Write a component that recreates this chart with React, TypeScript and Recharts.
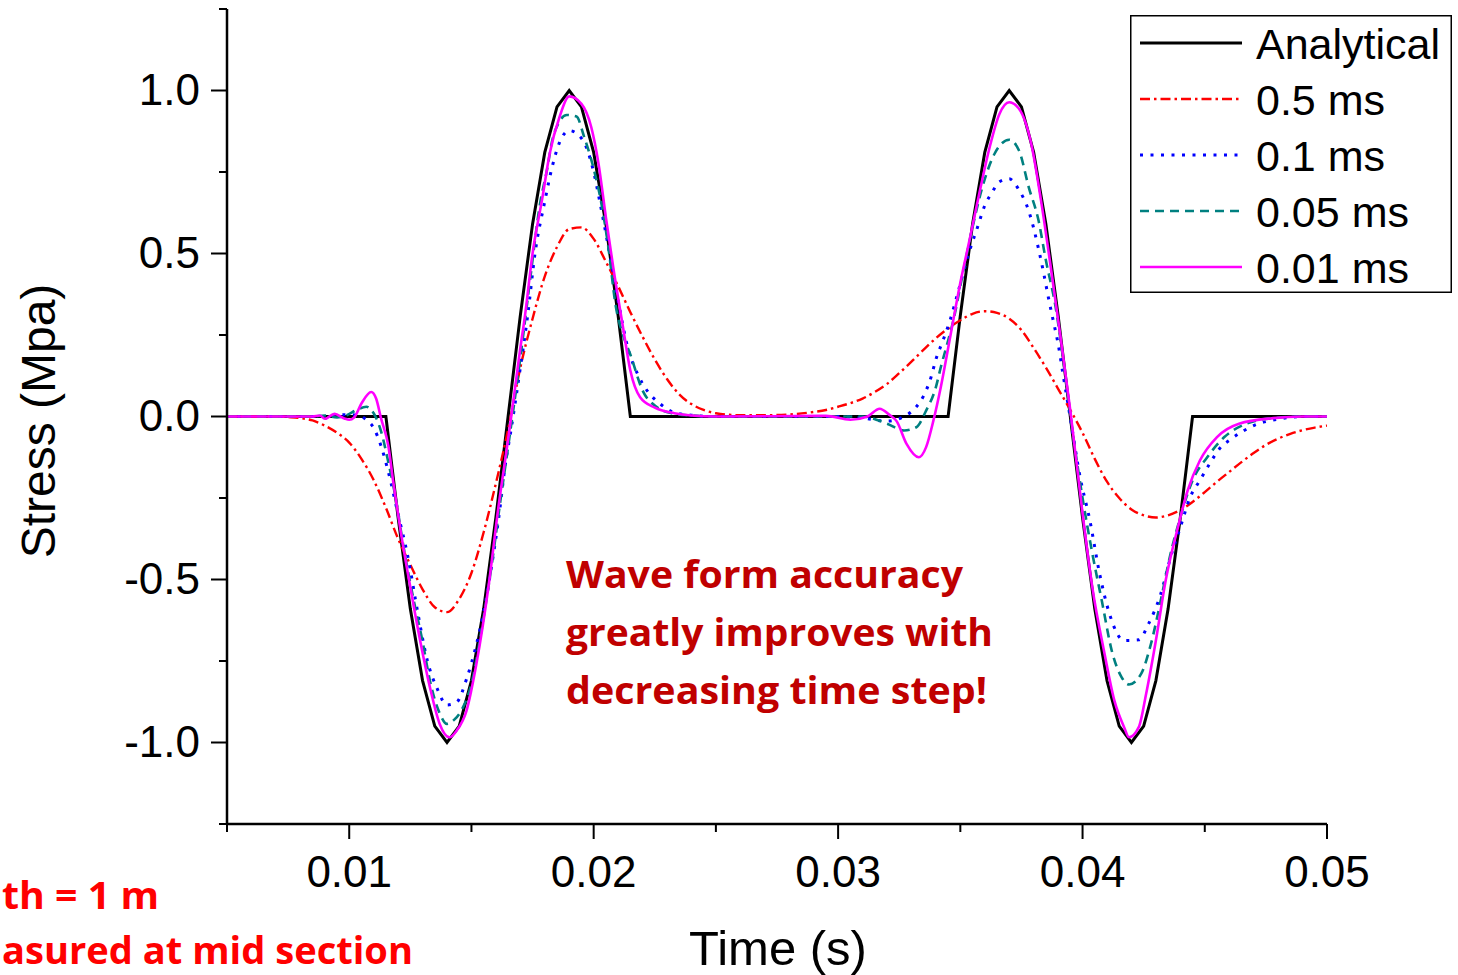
import React from 'react';
import { LineChart, Line, XAxis, YAxis, Legend } from 'recharts';

// ---------- axis ticks ----------
const xTicks = [0.005, 0.01, 0.015, 0.02, 0.025, 0.03, 0.035, 0.04, 0.045, 0.05];
const yTicks = [-1.25, -1, -0.75, -0.5, -0.25, 0, 0.25, 0.5, 0.75, 1, 1.25];

// ---------- Analytical ----------
const tAnalytical = [0.005, 0.0115, 0.012, 0.0125, 0.013, 0.0135, 0.014, 0.0145, 0.015, 0.0155, 0.016, 0.0165, 0.017, 0.0175, 0.018, 0.0185, 0.019, 0.0195, 0.02, 0.0205, 0.021, 0.0215, 0.0345, 0.035, 0.0355, 0.036, 0.0365, 0.037, 0.0375, 0.038, 0.0385, 0.039, 0.0395, 0.04, 0.0405, 0.041, 0.0415, 0.042, 0.0425, 0.043, 0.0435, 0.044, 0.0445, 0.05];
const sAnalytical = [0, 0, -0.31, -0.59, -0.81, -0.95, -1, -0.95, -0.81, -0.59, -0.31, 0, 0.31, 0.59, 0.81, 0.95, 1, 0.95, 0.81, 0.59, 0.31, 0, 0, 0.31, 0.59, 0.81, 0.95, 1, 0.95, 0.81, 0.59, 0.31, 0, -0.31, -0.59, -0.81, -0.95, -1, -0.95, -0.81, -0.59, -0.31, 0, 0];

// ---------- 0.5 ms ----------
const t05 = [0.005, 0.006, 0.007, 0.0075, 0.008, 0.0085, 0.009, 0.0095, 0.01, 0.0105, 0.011, 0.0115, 0.012, 0.0125, 0.013, 0.0135, 0.014, 0.0145, 0.015, 0.0155, 0.016, 0.0165, 0.017, 0.0175, 0.018, 0.0185, 0.019, 0.0195, 0.02, 0.0205, 0.021, 0.0215, 0.022, 0.0225, 0.023, 0.0235, 0.024, 0.0245, 0.025, 0.026, 0.027, 0.028, 0.029, 0.0295, 0.03, 0.0305, 0.031, 0.0315, 0.032, 0.0325, 0.033, 0.0335, 0.034, 0.0345, 0.035, 0.0355, 0.036, 0.0365, 0.037, 0.0375, 0.038, 0.0385, 0.039, 0.0395, 0.04, 0.0405, 0.041, 0.0415, 0.042, 0.0425, 0.043, 0.0435, 0.044, 0.0445, 0.045, 0.0455, 0.046, 0.0465, 0.047, 0.0475, 0.048, 0.0485, 0.049, 0.0495, 0.05];
const s05 = [0, 0, 0, -0.002, -0.005, -0.012, -0.028, -0.05, -0.08, -0.13, -0.195, -0.28, -0.375, -0.455, -0.53, -0.585, -0.6, -0.56, -0.48, -0.355, -0.205, -0.04, 0.15, 0.3, 0.43, 0.52, 0.575, 0.58, 0.545, 0.475, 0.4, 0.32, 0.245, 0.175, 0.115, 0.068, 0.038, 0.02, 0.01, 0.004, 0.004, 0.006, 0.014, 0.02, 0.03, 0.041, 0.055, 0.075, 0.1, 0.133, 0.168, 0.205, 0.24, 0.27, 0.295, 0.315, 0.323, 0.318, 0.3, 0.265, 0.21, 0.15, 0.085, 0.02, -0.05, -0.13, -0.2, -0.25, -0.285, -0.303, -0.31, -0.303, -0.287, -0.262, -0.232, -0.2, -0.17, -0.14, -0.112, -0.087, -0.068, -0.053, -0.042, -0.034, -0.028];

// ---------- 0.1 ms ----------
const t01 = [0.005, 0.009, 0.0095, 0.01, 0.0104, 0.0107, 0.011, 0.0113, 0.0116, 0.012, 0.0124, 0.0128, 0.0132, 0.0136, 0.014, 0.0144, 0.0148, 0.0152, 0.0155, 0.0158, 0.0161, 0.0164, 0.0166, 0.017, 0.0173, 0.0176, 0.018, 0.0183, 0.0186, 0.019, 0.0194, 0.0197, 0.02, 0.0203, 0.0207, 0.021, 0.0214, 0.0218, 0.0222, 0.0227, 0.0233, 0.024, 0.025, 0.03, 0.031, 0.032, 0.0327, 0.0332, 0.0335, 0.0338, 0.034, 0.0343, 0.0346, 0.0349, 0.0353, 0.0357, 0.036, 0.0363, 0.0366, 0.037, 0.0374, 0.0378, 0.0382, 0.0384, 0.0386, 0.0388, 0.039, 0.0392, 0.0395, 0.0399, 0.0403, 0.0407, 0.0411, 0.0417, 0.0423, 0.0427, 0.0432, 0.0436, 0.044, 0.0444, 0.0448, 0.0452, 0.0456, 0.0461, 0.047, 0.0481, 0.049, 0.05];
const s01 = [0, 0, 0.004, 0.006, 0.003, -0.01, -0.035, -0.09, -0.17, -0.3, -0.43, -0.6, -0.75, -0.835, -0.885, -0.876, -0.805, -0.7, -0.6, -0.47, -0.32, -0.14, -0.05, 0.15, 0.31, 0.5, 0.66, 0.765, 0.84, 0.877, 0.862, 0.826, 0.75, 0.64, 0.48, 0.356, 0.21, 0.13, 0.078, 0.04, 0.012, 0.004, 0, 0, -0.005, -0.014, 0, 0.03, 0.064, 0.12, 0.175, 0.235, 0.3, 0.38, 0.49, 0.58, 0.647, 0.688, 0.72, 0.729, 0.695, 0.63, 0.514, 0.443, 0.366, 0.294, 0.223, 0.13, -0.005, -0.186, -0.319, -0.483, -0.605, -0.687, -0.685, -0.636, -0.544, -0.432, -0.34, -0.248, -0.196, -0.145, -0.099, -0.068, -0.028, -0.007, 0, 0];

// ---------- 0.05 ms ----------
const t005 = [0.005, 0.0085, 0.009, 0.0095, 0.0099, 0.0103, 0.0107, 0.011, 0.0113, 0.0116, 0.0119, 0.0122, 0.0126, 0.013, 0.0133, 0.0137, 0.014, 0.0143, 0.0146, 0.015, 0.0154, 0.0158, 0.0162, 0.0166, 0.017, 0.0174, 0.0178, 0.0181, 0.0183, 0.0186, 0.0189, 0.0193, 0.0196, 0.02, 0.0203, 0.0206, 0.0209, 0.0212, 0.0215, 0.022, 0.0226, 0.0232, 0.024, 0.025, 0.031, 0.032, 0.0327, 0.0332, 0.0336, 0.034, 0.0342, 0.0345, 0.0347, 0.0351, 0.0355, 0.0359, 0.0364, 0.037, 0.0374, 0.0378, 0.0382, 0.0385, 0.0389, 0.0392, 0.0396, 0.04, 0.0404, 0.0408, 0.0412, 0.0416, 0.0419, 0.0424, 0.0428, 0.0432, 0.0436, 0.044, 0.0445, 0.0451, 0.0458, 0.0467, 0.0478, 0.049, 0.05];
const s005 = [0, 0, 0.003, -0.003, 0.004, 0.02, 0.03, 0.01, -0.045, -0.14, -0.25, -0.39, -0.55, -0.69, -0.81, -0.91, -0.943, -0.93, -0.9, -0.82, -0.66, -0.47, -0.25, -0.04, 0.18, 0.42, 0.65, 0.76, 0.845, 0.905, 0.925, 0.92, 0.86, 0.76, 0.66, 0.52, 0.34, 0.25, 0.19, 0.08, 0.028, 0.01, 0.003, 0, 0, -0.022, -0.043, -0.033, 0.018, 0.09, 0.151, 0.233, 0.29, 0.438, 0.581, 0.703, 0.806, 0.849, 0.816, 0.703, 0.601, 0.479, 0.335, 0.18, -0.05, -0.25, -0.42, -0.57, -0.72, -0.8, -0.822, -0.789, -0.697, -0.564, -0.421, -0.309, -0.196, -0.125, -0.063, -0.022, -0.005, 0, 0];

// ---------- 0.01 ms ----------
const t001 = [0.005, 0.0085, 0.0088, 0.009, 0.0094, 0.0098, 0.01, 0.0102, 0.0105, 0.0109, 0.0111, 0.0113, 0.0116, 0.0118, 0.0121, 0.0125, 0.0129, 0.0133, 0.0137, 0.0141, 0.0144, 0.0148, 0.0152, 0.0157, 0.0161, 0.0165, 0.0167, 0.017, 0.0172, 0.0175, 0.0179, 0.0182, 0.0186, 0.019, 0.0195, 0.0199, 0.0202, 0.0205, 0.0208, 0.0212, 0.0215, 0.0219, 0.0225, 0.0233, 0.024, 0.025, 0.0295, 0.0305, 0.0312, 0.0317, 0.0321, 0.0324, 0.0328, 0.0333, 0.0336, 0.0339, 0.0342, 0.0346, 0.035, 0.0354, 0.0358, 0.0362, 0.0366, 0.037, 0.0374, 0.0379, 0.0383, 0.0387, 0.0391, 0.0395, 0.04, 0.0404, 0.0409, 0.0413, 0.0417, 0.0419, 0.0423, 0.0426, 0.043, 0.0434, 0.0439, 0.0443, 0.0448, 0.0455, 0.0464, 0.0478, 0.049, 0.05];
const s001 = [0, 0, 0.003, -0.007, 0.008, -0.006, -0.01, -0.003, 0.04, 0.075, 0.055, -0.005, -0.09, -0.2, -0.35, -0.524, -0.687, -0.83, -0.943, -0.984, -0.963, -0.902, -0.76, -0.52, -0.28, -0.07, 0.04, 0.21, 0.315, 0.5, 0.67, 0.806, 0.918, 0.982, 0.959, 0.888, 0.775, 0.611, 0.458, 0.274, 0.141, 0.059, 0.027, 0.01, 0.003, 0, 0.002, -0.01, 0, 0.024, 0.005, -0.015, -0.084, -0.125, -0.094, -0.012, 0.09, 0.25, 0.41, 0.55, 0.693, 0.826, 0.928, 0.964, 0.944, 0.837, 0.663, 0.458, 0.243, 0.018, -0.298, -0.524, -0.728, -0.871, -0.953, -0.984, -0.953, -0.851, -0.687, -0.503, -0.34, -0.227, -0.135, -0.063, -0.022, -0.005, 0, 0];

const seriesNames = ['Analytical', '0.5 ms', '0.1 ms', '0.05 ms', '0.01 ms'];

const toPoints = (ts: number[], vs: number[]) => ts.map((t, i) => ({ t, v: vs[i] }));

const SERIES = [
  { name: seriesNames[0], data: toPoints(tAnalytical, sAnalytical), color: '#000000', width: 3, dash: undefined as string | undefined, type: 'linear' },
  { name: seriesNames[1], data: toPoints(t05, s05), color: '#ff0000', width: 2.4, dash: '10 4 2.5 4', type: 'monotone' },
  { name: seriesNames[2], data: toPoints(t01, s01), color: '#0000ff', width: 3, dash: '3 7.5', type: 'monotone' },
  { name: seriesNames[3], data: toPoints(t005, s005), color: '#008080', width: 2.6, dash: '9 6', type: 'monotone' },
  { name: seriesNames[4], data: toPoints(t001, s001), color: '#ff00ff', width: 2.6, dash: undefined, type: 'monotone' },
];

const AXIS_FONT = "'Liberation Sans', Arial, sans-serif";
const NOTE_FONT = "'Open Sans', 'Noto Sans', sans-serif";

const XTick = (props: any) => {
  const { x, y, payload } = props;
  const v = payload.value as number;
  const major = Math.abs(v * 100 - Math.round(v * 100)) < 1e-6;
  return (
    <g>
      <line x1={x} x2={x} y1={y} y2={y + (major ? 15 : 8)} stroke="#000" strokeWidth={2} />
      {major && (
        <text x={x} y={y + 63} textAnchor="middle" fontSize={44} fontFamily={AXIS_FONT} fill="#000">
          {v.toFixed(2)}
        </text>
      )}
    </g>
  );
};

const YTick = (props: any) => {
  const { x, y, payload } = props;
  const v = payload.value as number;
  const major = Math.abs(v * 2 - Math.round(v * 2)) < 1e-6;
  return (
    <g>
      <line x1={x - (major ? 16 : 8)} x2={x} y1={y} y2={y} stroke="#000" strokeWidth={2} />
      {major && (
        <text x={x - 27} y={y + 14} textAnchor="end" fontSize={44} fontFamily={AXIS_FONT} fill="#000">
          {v.toFixed(1)}
        </text>
      )}
    </g>
  );
};

const renderLegend = () => (
  <svg width={322} height={278} style={{ display: 'block' }}>
    <rect x={0.75} y={0.75} width={320.5} height={276.5} fill="#fff" stroke="#000" strokeWidth={1.5} />
    {SERIES.map((s, i) => {
      const cy = 28 + i * 56;
      return (
        <g key={s.name}>
          <line x1={10} x2={112} y1={cy} y2={cy} stroke={s.color} strokeWidth={s.width} strokeDasharray={s.dash} />
          <text x={126} y={cy + 16} fontSize={43} fontFamily={AXIS_FONT} fill="#000">
            {s.name}
          </text>
        </g>
      );
    })}
  </svg>
);

export default function App() {
  return (
    <div style={{ position: 'absolute', left: 0, top: 0, width: 1458, height: 975, background: '#fff' }}>
      <LineChart width={1458} height={975} margin={{ top: 9, right: 131, bottom: 0, left: 0 }}>
        <XAxis
          dataKey="t"
          type="number"
          domain={[0.005, 0.05]}
          allowDataOverflow
          ticks={xTicks}
          interval={0}
          height={151}
          tickSize={0}
          tickMargin={0}
          tickLine={false}
          tick={<XTick />}
          axisLine={{ stroke: '#000', strokeWidth: 2.5 }}
          label={{
            content: () => (
              <text x={778} y={965} textAnchor="middle" fontSize={49} fontFamily={AXIS_FONT} fill="#000">
                Time (s)
              </text>
            ),
          }}
        />
        <YAxis
          dataKey="v"
          type="number"
          domain={[-1.25, 1.25]}
          allowDataOverflow
          ticks={yTicks}
          interval={0}
          width={227}
          tickSize={0}
          tickMargin={0}
          tickLine={false}
          tick={<YTick />}
          axisLine={{ stroke: '#000', strokeWidth: 2.5 }}
          label={{
            content: () => (
              <text
                x={55}
                y={421}
                transform="rotate(-90 55 421)"
                textAnchor="middle"
                fontSize={48}
                fontFamily={AXIS_FONT}
                fill="#000"
              >
                Stress (Mpa)
              </text>
            ),
          }}
        />
        {SERIES.map((s) => (
          <Line
            key={s.name}
            name={s.name}
            data={s.data}
            dataKey="v"
            type={s.type as any}
            stroke={s.color}
            strokeWidth={s.width}
            strokeDasharray={s.dash}
            dot={false}
            activeDot={false}
            isAnimationActive={false}
          />
        ))}
        <Legend
          layout="vertical"
          align="center"
          verticalAlign="middle"
          content={renderLegend}
          wrapperStyle={{ position: 'absolute', left: 1130, top: 15, width: 322, height: 278 }}
        />
      </LineChart>
      <svg
        width={1458}
        height={975}
        style={{ position: 'absolute', left: 0, top: 0, pointerEvents: 'none' }}
      >
        <g fontFamily={NOTE_FONT} fontWeight={700} fontSize={38} fill="#c00000">
          <text x={566} y={588} textLength={397} lengthAdjust="spacingAndGlyphs">Wave form accuracy</text>
          <text x={566} y={646} textLength={427} lengthAdjust="spacingAndGlyphs">greatly improves with</text>
          <text x={566} y={704} textLength={421} lengthAdjust="spacingAndGlyphs">decreasing time step!</text>
        </g>
        <g fontFamily={NOTE_FONT} fontWeight={700} fontSize={37} fill="#ff0000">
          <text x={2} y={909} textLength={157} lengthAdjust="spacingAndGlyphs">th = 1 m</text>
          <text x={2} y={964} textLength={411} lengthAdjust="spacingAndGlyphs">asured at mid section</text>
        </g>
      </svg>
    </div>
  );
}
